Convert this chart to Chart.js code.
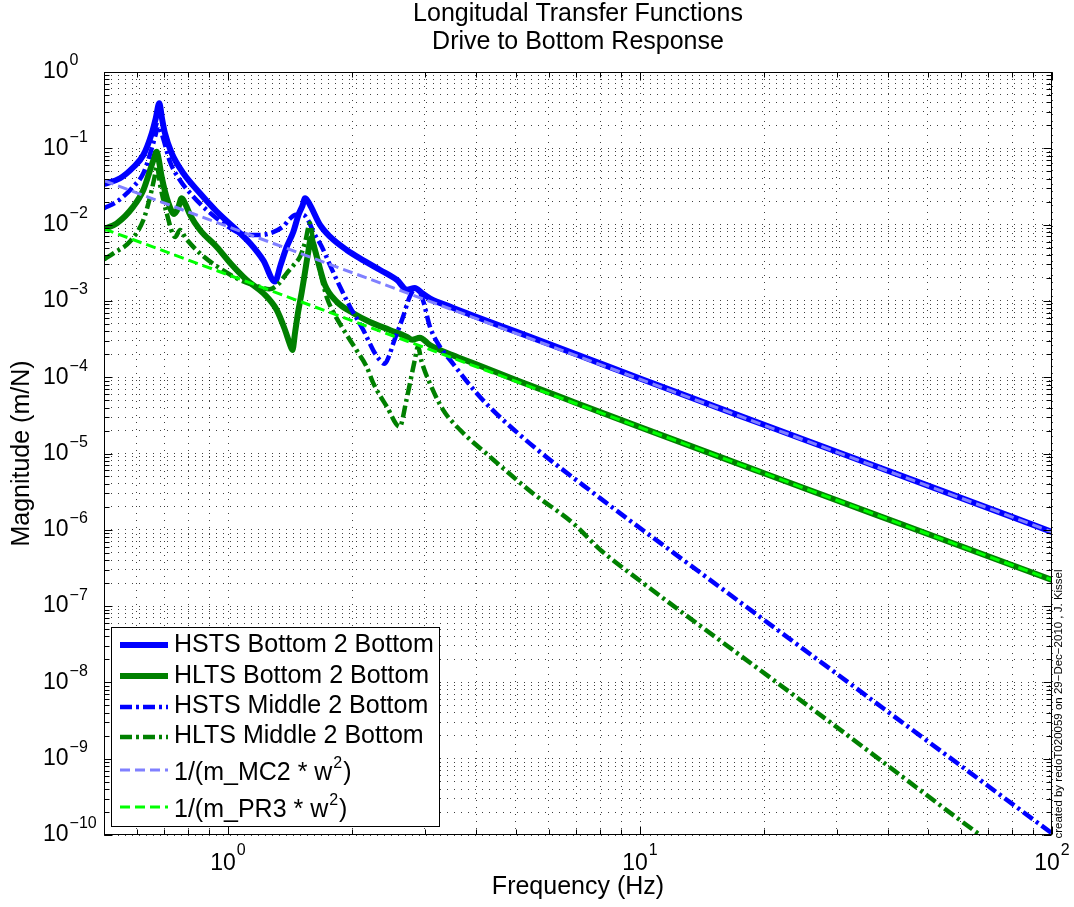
<!DOCTYPE html>
<html>
<head>
<meta charset="utf-8">
<script src="https://cdn.jsdelivr.net/npm/chart.js@4.4.0/dist/chart.umd.min.js"></script>
<style>
html,body{margin:0;padding:0;background:#fff;}
#wrap{width:1074px;height:907px;position:relative;}
</style>
</head>
<body>
<div id="wrap"><canvas id="c" width="1074" height="907"></canvas></div>
<script>
const FONT = '"Liberation Sans", Arial, Helvetica, sans-serif';

// ---------- text ----------
const titleLines = ['Longitudal Transfer Functions', 'Drive to Bottom Response'];
const xAxisLabel = 'Frequency (Hz)';
const yAxisLabel = 'Magnitude (m/N)';
const footnote = 'created by redoT020059 on 29\u2212Dec\u22122010 , J. Kissel';
const seriesLabels = [
  'HSTS Bottom 2 Bottom',
  'HLTS Bottom 2 Bottom',
  'HSTS Middle 2 Bottom',
  'HLTS Middle 2 Bottom',
  '1/(m_MC2 * w\u00B2)',
  '1/(m_PR3 * w\u00B2)'
];

// ---------- axes ----------
const xMin = 0.5, xMax = 100;
const yMin = 1e-10, yMax = 1;
const xTickExponents = [0, 1, 2];
const yTickExponents = [0, -1, -2, -3, -4, -5, -6, -7, -8, -9, -10];
const gridMultipliers = [1, 2, 3, 4, 5, 6, 7, 8, 9];

// ---------- data ----------
const hstsBB_f = [0.5, 0.547, 0.589, 0.623, 0.653, 0.668, 0.681, 0.692, 0.703, 0.730, 0.779, 0.855, 0.939, 1.03, 1.131, 1.218, 1.30, 1.34, 1.388, 1.44, 1.483, 1.515, 1.538, 1.565, 1.596, 1.672, 1.768, 1.941, 2.13, 2.34, 2.57, 2.72, 2.84, 2.95, 3.09, 3.5, 4.0, 5.0, 7.0, 10, 20, 50, 100];
const hstsBB_mag = [0.034, 0.0405, 0.0564, 0.0817, 0.157, 0.25, 0.389, 0.24, 0.157, 0.086, 0.047, 0.0257, 0.0148, 0.0093, 0.0057, 0.0034, 0.00179, 0.0029, 0.0051, 0.0080, 0.0135, 0.0175, 0.0221, 0.0200, 0.0164, 0.0099, 0.00695, 0.00465, 0.0034, 0.00254, 0.00188, 0.00140, 0.00148, 0.00128, 0.00108, 0.00082, 0.00062, 0.000395, 0.000200, 0.000096, 0.0000238, 0.0000038, 0.00000094];

const hltsBB_f = [0.5, 0.537, 0.589, 0.623, 0.647, 0.660, 0.671, 0.680, 0.690, 0.717, 0.740, 0.755, 0.772, 0.790, 0.809, 0.855, 0.939, 1.02, 1.11, 1.218, 1.313, 1.375, 1.41, 1.433, 1.455, 1.48, 1.51, 1.538, 1.565, 1.59, 1.615, 1.642, 1.718, 1.835, 2.014, 2.21, 2.47, 2.71, 2.80, 2.92, 3.09, 3.5, 4.0, 5.0, 7.0, 10, 20, 50, 100];
const hltsBB_mag = [0.00875, 0.0104, 0.0172, 0.0284, 0.052, 0.072, 0.0903, 0.068, 0.0425, 0.019, 0.0138, 0.016, 0.0221, 0.018, 0.0134, 0.0085, 0.0051, 0.0030, 0.00188, 0.00126, 0.00076, 0.000416, 0.00028, 0.000227, 0.00039, 0.00072, 0.00131, 0.0024, 0.0043, 0.0066, 0.0053, 0.0038, 0.00162, 0.00098, 0.00069, 0.00053, 0.000416, 0.00034, 0.00031, 0.00033, 0.000264, 0.000195, 0.000148, 0.000092, 0.000046, 0.0000222, 0.0000055, 0.00000088, 0.00000022];

const hstsMB_f = [0.5, 0.537, 0.589, 0.623, 0.653, 0.667, 0.677, 0.688, 0.698, 0.723, 0.764, 0.824, 0.888, 0.974, 1.07, 1.17, 1.265, 1.362, 1.41, 1.46, 1.52, 1.57, 1.61, 1.69, 1.77, 1.87, 1.977, 2.13, 2.25, 2.33, 2.40, 2.46, 2.52, 2.66, 2.76, 2.85, 2.92, 2.98, 3.09, 3.27, 3.46, 4.09, 5.11, 8.0, 12.0, 30, 100];
const hstsMB_mag = [0.0164, 0.020, 0.0314, 0.047, 0.100, 0.150, 0.200, 0.165, 0.128, 0.0667, 0.0384, 0.0232, 0.0155, 0.0104, 0.0077, 0.0073, 0.0077, 0.0095, 0.0118, 0.0135, 0.0135, 0.0110, 0.0081, 0.0051, 0.0029, 0.00153, 0.00084, 0.000416, 0.000227, 0.00017, 0.000150, 0.00019, 0.00028, 0.00062, 0.00113, 0.00145, 0.0013, 0.00098, 0.00046, 0.00025, 0.000168, 0.000055, 0.0000175, 0.0000026, 0.00000051, 0.000000013, 0.000000000105];

const hltsMB_f = [0.5, 0.527, 0.578, 0.623, 0.647, 0.662, 0.672, 0.685, 0.71, 0.744, 0.765, 0.79, 0.855, 0.93, 1.07, 1.196, 1.26, 1.33, 1.388, 1.44, 1.495, 1.54, 1.58, 1.61, 1.625, 1.68, 1.74, 1.80, 1.92, 2.05, 2.17, 2.253, 2.43, 2.61, 2.71, 2.84, 2.89, 2.95, 3.09, 3.33, 3.66, 4.32, 5.5, 6.88, 8.0, 10, 21.1, 30, 66.9, 100];
const hltsMB_mag = [0.0035, 0.0042, 0.0060, 0.0115, 0.0232, 0.040, 0.058, 0.032, 0.014, 0.0069, 0.0085, 0.0066, 0.0042, 0.00295, 0.00188, 0.00152, 0.00142, 0.0017, 0.0023, 0.0029, 0.0038, 0.0060, 0.0105, 0.0060, 0.0049, 0.0022, 0.00108, 0.00072, 0.000395, 0.000227, 0.000137, 0.000083, 0.000041, 0.0000225, 0.000050, 0.000168, 0.00025, 0.00016, 0.000083, 0.000037, 0.0000203, 0.0000091, 0.0000030, 0.00000122, 0.00000055, 0.000000215, 0.0000000107, 0.0000000026, 0.0000000001, 0.000000000021];

const mc2_f = [0.5, 1, 10, 100];
const mc2_mag = [0.0376, 0.0094, 0.000094, 0.00000094];

const pr3_f = [0.5, 1, 10, 100];
const pr3_mag = [0.0088, 0.0022, 0.000022, 0.00000022];

// ---------- build ----------
function pts(f, m) { return f.map((v, i) => ({ x: v, y: m[i] })); }
function decadeGrid(lo, hi) {
  const out = [];
  for (let e = Math.floor(Math.log10(lo)); e <= Math.ceil(Math.log10(hi)); e++) {
    for (const m of gridMultipliers) {
      const v = parseFloat((m * Math.pow(10, e)).toPrecision(6));
      if (v >= lo * 0.999999 && v <= hi * 1.000001) out.push(v);
    }
  }
  return out;
}
function isDecade(v) { const l = Math.log10(v); return Math.abs(l - Math.round(l)) < 1e-6; }

const styles = [
  { color: '#0000ff', width: 6, dash: [] },
  { color: '#008000', width: 6, dash: [] },
  { color: '#0000ff', width: 4.5, dash: [12, 4, 3, 4] },
  { color: '#008000', width: 4.5, dash: [12, 4, 3, 4] },
  { color: '#8080ff', width: 3, dash: [10, 5] },
  { color: '#00ff00', width: 3, dash: [10, 5] }
];
const series = [
  pts(hstsBB_f, hstsBB_mag), pts(hltsBB_f, hltsBB_mag),
  pts(hstsMB_f, hstsMB_mag), pts(hltsMB_f, hltsMB_mag),
  pts(mc2_f, mc2_mag), pts(pr3_f, pr3_mag)
];
const datasets = series.map((d, i) => ({
  label: seriesLabels[i],
  data: d,
  borderColor: styles[i].color,
  backgroundColor: styles[i].color,
  borderWidth: styles[i].width,
  borderDash: styles[i].dash,
  borderJoinStyle: 'round',
  borderCapStyle: 'butt',
  pointRadius: 0,
  fill: false,
  cubicInterpolationMode: 'monotone',
  order: series.length - i
}));

const xGrid = decadeGrid(xMin, xMax);
const yGrid = decadeGrid(yMin, yMax);

function expText(e) { return e < 0 ? '\u2212' + Math.abs(e) : String(e); }

const legendBox = { x: 111.5, y: 627.5, w: 328, h: 199 };
const legendLineY = [645, 676, 707, 737, 770, 807];
const legendTextY = [645, 676.5, 706.5, 736.5, 773, 810];

const matlabPlugin = {
  id: 'matlab',
  afterDatasetsDraw(chart) {
    const { ctx, chartArea: a, scales: { x, y } } = chart;
    const L = Math.round(a.left) + 0.5, R = Math.round(a.right) - 0.5;
    const T = Math.round(a.top) + 0.5, B = Math.round(a.bottom) - 0.5;
    ctx.save();
    ctx.setLineDash([]);
    ctx.strokeStyle = '#000';
    ctx.lineWidth = 1;
    ctx.beginPath();
    x.ticks.forEach(t => {
      const px = Math.round(x.getPixelForValue(t.value)) + 0.5;
      const len = isDecade(t.value) ? 8 : 5;
      ctx.moveTo(px, B); ctx.lineTo(px, B - len);
      ctx.moveTo(px, T); ctx.lineTo(px, T + len);
    });
    y.ticks.forEach(t => {
      const py = Math.round(y.getPixelForValue(t.value)) + 0.5;
      const len = isDecade(t.value) ? 8 : 5;
      ctx.moveTo(L, py); ctx.lineTo(L + len, py);
      ctx.moveTo(R, py); ctx.lineTo(R - len, py);
    });
    ctx.stroke();
    ctx.strokeRect(L, T, R - L, B - T);

    // legend
    ctx.fillStyle = '#fff';
    ctx.fillRect(legendBox.x, legendBox.y, legendBox.w, legendBox.h);
    ctx.strokeStyle = '#000';
    ctx.lineWidth = 1;
    ctx.strokeRect(legendBox.x, legendBox.y, legendBox.w, legendBox.h);
    chart.data.datasets.forEach((ds, i) => {
      const ly = legendLineY[i];
      ctx.save();
      ctx.strokeStyle = ds.borderColor;
      ctx.lineWidth = ds.borderWidth;
      ctx.setLineDash(ds.borderDash || []);
      ctx.lineCap = 'butt';
      ctx.beginPath();
      ctx.moveTo(120, ly);
      ctx.lineTo(168, ly);
      ctx.stroke();
      ctx.restore();
      const ty = legendTextY[i];
      const parts = ds.label.split('\u00B2');
      ctx.fillStyle = '#000';
      ctx.textBaseline = 'middle';
      ctx.textAlign = 'left';
      let tx = 174;
      ctx.font = '25px ' + FONT;
      ctx.fillText(parts[0], tx, ty);
      tx += ctx.measureText(parts[0]).width;
      if (parts.length > 1) {
        ctx.font = '16px ' + FONT;
        ctx.fillText('2', tx + 1, ty - 9);
        tx += ctx.measureText('2').width + 2;
        ctx.font = '25px ' + FONT;
        ctx.fillText(parts[1], tx, ty);
      }
    });
    ctx.restore();
  },
  afterDraw(chart) {
    const { ctx, chartArea: a, scales: { x, y } } = chart;
    ctx.save();
    ctx.fillStyle = '#000';
    // title
    ctx.textAlign = 'center';
    ctx.textBaseline = 'middle';
    ctx.font = '25px ' + FONT;
    const cx = (a.left + a.right) / 2;
    titleLines.forEach((t, i) => ctx.fillText(t, cx, 14 + i * 28));
    ctx.textAlign = 'left';
    // x tick labels
    xTickExponents.forEach(e => {
      const px = x.getPixelForValue(Math.pow(10, e));
      ctx.font = '23px ' + FONT;
      const wb = ctx.measureText('10').width;
      ctx.font = '16px ' + FONT;
      const et = expText(e);
      const we = ctx.measureText(et).width;
      const start = px - (wb + we + 1) / 2;
      ctx.font = '23px ' + FONT;
      ctx.fillText('10', start, 864);
      ctx.font = '16px ' + FONT;
      ctx.fillText(et, start + wb + 1, 851);
    });
    // y tick labels
    yTickExponents.forEach(e => {
      const py = y.getPixelForValue(Math.pow(10, e));
      ctx.font = '23px ' + FONT;
      ctx.fillText('10', 43, py);
      const wb = ctx.measureText('10').width;
      ctx.font = '16px ' + FONT;
      ctx.fillText(expText(e), 43 + wb + 1, py - 11);
    });
    // footnote
    ctx.save();
    ctx.translate(1061.5, 704);
    ctx.rotate(-Math.PI / 2);
    ctx.font = '11.5px ' + FONT;
    ctx.textAlign = 'center';
    ctx.textBaseline = 'alphabetic';
    ctx.fillText(footnote, 0, 0);
    ctx.restore();
    ctx.restore();
  }
};

const gridOpts = { color: 'rgba(0,0,0,0.75)', lineWidth: 1, drawTicks: false, drawOnChartArea: true };
const borderOpts = { display: false, dash: [1, 6] };

new Chart(document.getElementById('c').getContext('2d'), {
  type: 'line',
  data: { datasets },
  options: {
    responsive: false,
    animation: false,
    devicePixelRatio: 1,
    layout: { padding: { left: 0, right: 22, top: 72, bottom: 0 } },
    plugins: {
      legend: { display: false },
      tooltip: { enabled: false },
      title: { display: false }
    },
    scales: {
      x: {
        type: 'logarithmic',
        position: 'bottom',
        min: xMin, max: xMax,
        bounds: 'data',
        afterBuildTicks: s => { s.ticks = xGrid.map(v => ({ value: v })); },
        ticks: { display: false, autoSkip: false },
        grid: gridOpts,
        border: borderOpts,
        title: {
          display: true, text: xAxisLabel, color: '#000',
          font: { family: FONT, size: 25, weight: 'normal', lineHeight: '30px' },
          padding: { top: 37, bottom: 5 }
        }
      },
      y: {
        type: 'logarithmic',
        position: 'left',
        min: yMin, max: yMax,
        bounds: 'data',
        afterBuildTicks: s => { s.ticks = yGrid.map(v => ({ value: v })); },
        ticks: { display: false, autoSkip: false },
        grid: gridOpts,
        border: borderOpts,
        title: {
          display: true, text: yAxisLabel, color: '#000',
          font: { family: FONT, size: 25, weight: 'normal', lineHeight: '30px' },
          padding: { top: 7, bottom: 67 }
        }
      }
    }
  },
  plugins: [matlabPlugin]
});
</script>
</body>
</html>
